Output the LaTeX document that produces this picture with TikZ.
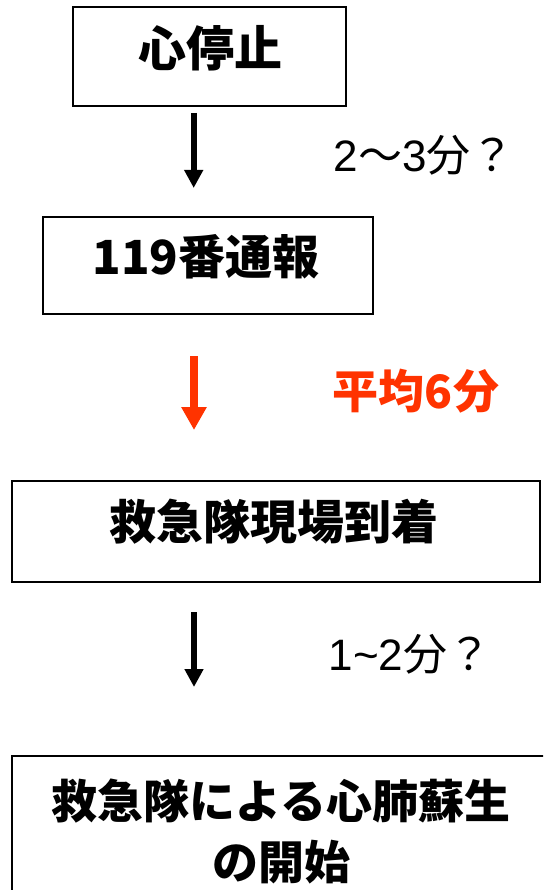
\documentclass[tikz,border=0pt]{standalone}
\usepackage{fontspec}
\setmainfont{Noto Sans CJK JP}
\newfontfamily\latnum{Liberation Sans}
\usetikzlibrary{arrows.meta}
\definecolor{alertred}{RGB}{255,51,0}
\tikzset{
  flowbox/.style={draw=black, line width=2pt, rectangle, inner sep=0pt},
  boxtext/.style={font=\fontsize{47}{56}\selectfont\bfseries, inner sep=0pt, align=center},
  timelabel/.style={font=\fontsize{44}{50}\selectfont, inner sep=0pt},
  flowarrow/.style={line width=6pt, -{Triangle[width=18pt,length=18pt]}},
  redarrow/.style={line width=8pt, alertred, -{Triangle[width=24pt,length=23pt]}}
}
\begin{document}
\begin{tikzpicture}[x=1pt,y=-1pt]
  \useasboundingbox (0,0) rectangle (543,890);
  \clip (0,0) rectangle (543,890);
  \fill[white] (0,0) rectangle (543,890);

  % boxes
  \node[flowbox, minimum width=273pt, minimum height=99pt] (b1) at (209.5,56.5) {};
  \node[flowbox, minimum width=330pt, minimum height=97pt] (b2) at (208,265.5) {};
  \node[flowbox, minimum width=528pt, minimum height=101pt] (b3) at (276,531.5) {};
  \node[flowbox, minimum width=540pt, minimum height=174pt] (b4) at (282,843) {};

  % box texts
  \node[boxtext, font=\fontsize{48}{56}\selectfont\bfseries] (t1) at (210,48) {心停止};
  \node[boxtext] (t2) at (206,257) {119番通報};
  \node[boxtext] (t3) at (274,522) {救急隊現場到着};
  \node[boxtext, font=\fontsize{46}{61}\selectfont\bfseries] (t4) at (281,831) {救急隊による心肺蘇生\\の開始};

  % arrows
  \coordinate (a1s) at (193.7,113);
  \coordinate (a1e) at (193.7,188);
  \coordinate (a2s) at (194,356);
  \coordinate (a2e) at (194,430);
  \coordinate (a3s) at (194,612);
  \coordinate (a3e) at (194,687);
  \draw[flowarrow] (a1s) -- (a1e);
  \draw[redarrow] (a2s) -- (a2e);
  \draw[flowarrow] (a3s) -- (a3e);

  % time labels
  \node[timelabel] (l1) at (424,155) {{\latnum 2}〜{\latnum 3}分？};
  \node[timelabel, text=alertred, font=\fontsize{46}{50}\selectfont\bfseries] (l2) at (416,391) {平均6分};
  \node[timelabel] (l3) at (410,654) {{\latnum 1\char`\~2}分？};
\end{tikzpicture}
\end{document}
